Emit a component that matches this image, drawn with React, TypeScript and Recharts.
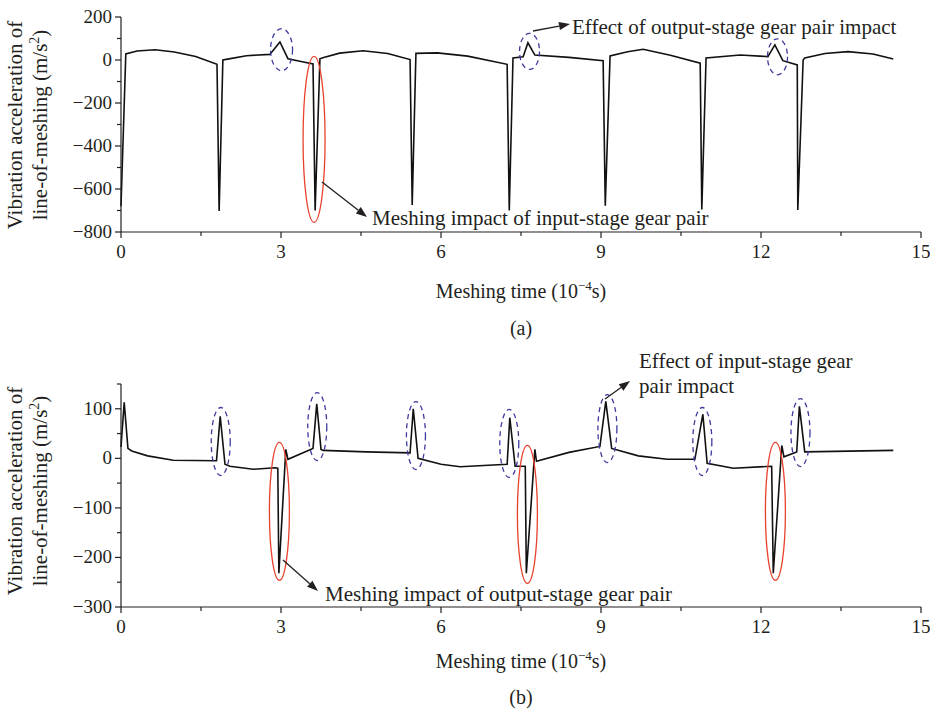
import { LineChart, Line, XAxis, YAxis, ReferenceDot } from "recharts";

// (a) line-of-meshing acceleration, input-stage meshing impacts
const timeA = [
  0.0, 0.09, 0.3, 0.64, 1.0, 1.4, 1.8, 1.84, 1.91,
  2.0, 2.35, 2.79, 2.98, 3.13, 3.4, 3.6, 3.64, 3.73,
  3.8, 4.1, 4.54, 5.0, 5.42, 5.46, 5.53,
  5.93, 6.5, 7.24, 7.28, 7.35,
  7.54, 7.63, 7.76, 8.4, 9.04, 9.08, 9.17,
  9.5, 9.79, 10.3, 10.86, 10.89, 10.97,
  11.61, 12.13, 12.26, 12.41, 12.68, 12.69, 12.79,
  12.82, 13.2, 13.63, 14.1, 14.48,
];
const accelA = [
  -680, 28, 42, 48, 37, 16, -20, -702, 0,
  4, 20, 26, 84, 6, -8, -18, -700, 6,
  12, 32, 43, 30, 2, -674, 31,
  33, 18, -20, -700, 10,
  15, 80, 23, 12, -3, -678, 19,
  38, 50, 22, -15, -695, 9,
  23, 16, 70, -3, -23, -698, 0,
  9, 30, 39, 28, 5,
];

// (b) line-of-meshing acceleration, output-stage meshing impacts
const timeB = [
  0.0, 0.06, 0.13, 0.2, 0.5, 0.98, 1.79, 1.86, 1.95,
  2.04, 2.48, 2.89, 2.94, 2.96, 3.09, 3.13, 3.6, 3.67,
  3.75, 3.79, 4.6, 5.42, 5.48, 5.57, 6.0, 6.36,
  7.24, 7.29, 7.39, 7.58, 7.6, 7.76, 7.79, 8.4,
  8.98, 9.09, 9.2, 9.7, 10.24, 10.76, 10.91, 10.99,
  11.48, 12.2, 12.23, 12.39, 12.43, 12.67, 12.72, 12.82, 14.48,
];
const accelB = [
  23, 113, 20, 15, 5, -4, -5, 85, -12,
  -16, -22, -19, -20, -232, 18, -2, 20, 110,
  18, 16, 13, 11, 100, 0, -12, -17,
  -12, 82, -16, -16, -232, 18, -6, 12,
  24, 115, 20, 5, -2, -2, 89, -10,
  -20, -16, -232, 26, 3, 13, 105, 13, 16,
];

// annotation ellipse centres (data coordinates)
const outputEffectA = [
  { t: 3.01, a: 48 },
  { t: 7.66, a: 40 },
  { t: 12.31, a: 15 },
];
const inputImpactA = [{ t: 3.62, a: -369 }];
const inputEffectB = [
  { t: 1.87, a: 34 },
  { t: 3.68, a: 64 },
  { t: 5.53, a: 46 },
  { t: 7.28, a: 30 },
  { t: 9.12, a: 60 },
  { t: 10.9, a: 34 },
  { t: 12.74, a: 52 },
];
const outputImpactB = [
  { t: 2.97, a: -107 },
  { t: 7.62, a: -113 },
  { t: 12.27, a: -107 },
];

const xTicks = [0, 1.5, 3, 4.5, 6, 7.5, 9, 10.5, 12, 13.5, 15];
const yTicksA = [-800, -700, -600, -500, -400, -300, -200, -100, 0, 100, 200];
const yTicksB = [-300, -250, -200, -150, -100, -50, 0, 50, 100, 150];

const dataA = timeA.map((t, i) => ({ t, a: accelA[i] }));
const dataB = timeB.map((t, i) => ({ t, a: accelB[i] }));

const FONT = '"Liberation Serif", "Times New Roman", serif';
const INK = "#231f20";
const PLOT_LEFT = 121;

const fmt = (v: number) => (v < 0 ? "\u2212" + Math.abs(v) : String(v));

const makeXTick = (bottom: number) => (props: any) => {
  const { x, payload } = props;
  const v = payload.value;
  const major = v % 3 === 0;
  return (
    <g>
      <line x1={x} x2={x} y1={bottom} y2={bottom + (major ? 6 : 4)} stroke={INK} strokeWidth={1.2} />
      {major && (
        <text x={x} y={bottom + 26} textAnchor="middle" fontFamily={FONT} fontSize={19} fill={INK}>
          {v}
        </text>
      )}
    </g>
  );
};

const makeYTick = (step: number) => (props: any) => {
  const { y, payload } = props;
  const v = payload.value;
  const major = v % step === 0;
  return (
    <g>
      <line x1={PLOT_LEFT - (major ? 6 : 4)} x2={PLOT_LEFT} y1={y} y2={y} stroke={INK} strokeWidth={1.2} />
      {major && (
        <text x={PLOT_LEFT - 9} y={y + 6} textAnchor="end" fontFamily={FONT} fontSize={19} fill={INK}>
          {fmt(v)}
        </text>
      )}
    </g>
  );
};

const ellipseShape = (rx: number, ry: number, color: string, dashed: boolean) => (p: any) => (
  <ellipse
    cx={p.cx}
    cy={p.cy}
    rx={rx}
    ry={ry}
    fill="none"
    stroke={color}
    strokeWidth={1.3}
    strokeDasharray={dashed ? "5 4" : undefined}
  />
);

const BLUE = "#3d3a9e";
const RED = "#e8412c";

function Arrow({ x1, y1, x2, y2 }: { x1: number; y1: number; x2: number; y2: number }) {
  const ang = Math.atan2(y2 - y1, x2 - x1);
  const len = 11;
  const w = 4;
  const bx = x2 - len * Math.cos(ang);
  const by = y2 - len * Math.sin(ang);
  const px = -Math.sin(ang) * w;
  const py = Math.cos(ang) * w;
  return (
    <g>
      <line x1={x1} y1={y1} x2={bx} y2={by} stroke={INK} strokeWidth={1.3} />
      <polygon points={`${x2},${y2} ${bx + px},${by + py} ${bx - px},${by - py}`} fill={INK} />
    </g>
  );
}

function YLabel({ cy }: { cy: number }) {
  return (
    <g fontFamily={FONT} fontSize={21} fill={INK} textAnchor="middle">
      <text transform={`translate(22, ${cy}) rotate(-90)`}>Vibration acceleration of</text>
      <text transform={`translate(47, ${cy}) rotate(-90)`}>
        line-of-meshing (m/s<tspan dy={-8} fontSize={14}>2</tspan>
        <tspan dy={8}>)</tspan>
      </text>
    </g>
  );
}

function XLabel({ y }: { y: number }) {
  return (
    <text x={521} y={y} textAnchor="middle" fontFamily={FONT} fontSize={20} fill={INK}>
      Meshing time (10<tspan dy={-8} fontSize={13}>{"\u22124"}</tspan>
      <tspan dy={8}>s)</tspan>
    </text>
  );
}

export default function App() {
  return (
    <div style={{ position: "absolute", left: 0, top: 0, width: 930, height: 713, background: "#fff" }}>
      <div style={{ position: "absolute", left: 0, top: 0 }}>
        <LineChart width={930} height={360} data={dataA} margin={{ top: 17, right: 9, bottom: 98, left: 61 }}>
          <XAxis
            dataKey="t"
            type="number"
            domain={[0, 15]}
            ticks={xTicks}
            interval={0}
            height={30}
            stroke={INK}
            strokeWidth={1.2}
            tickLine={false}
            tick={makeXTick(232)}
          />
          <YAxis
            type="number"
            domain={[-800, 200]}
            ticks={yTicksA}
            interval={0}
            width={60}
            stroke={INK}
            strokeWidth={1.2}
            tickLine={false}
            tick={makeYTick(200)}
          />
          <Line dataKey="a" type="linear" stroke="#111" strokeWidth={1.6} dot={false} isAnimationActive={false} />
          {outputEffectA.map((e, i) => (
            <ReferenceDot key={"ea" + i} x={e.t} y={e.a} r={1} ifOverflow="visible" shape={ellipseShape(i === 0 ? 11 : 10, i === 0 ? 21 : 18, BLUE, true)} />
          ))}
          {inputImpactA.map((e, i) => (
            <ReferenceDot key={"ia" + i} x={e.t} y={e.a} r={1} ifOverflow="visible" shape={ellipseShape(11, 83, RED, false)} />
          ))}
        </LineChart>
      </div>
      <div style={{ position: "absolute", left: 0, top: 360 }}>
        <LineChart width={930} height={353} data={dataB} margin={{ top: 24, right: 9, bottom: 76, left: 61 }}>
          <XAxis
            dataKey="t"
            type="number"
            domain={[0, 15]}
            ticks={xTicks}
            interval={0}
            height={30}
            stroke={INK}
            strokeWidth={1.2}
            tickLine={false}
            tick={makeXTick(247)}
          />
          <YAxis
            type="number"
            domain={[-300, 150]}
            ticks={yTicksB}
            interval={0}
            width={60}
            stroke={INK}
            strokeWidth={1.2}
            tickLine={false}
            tick={makeYTick(100)}
          />
          <Line dataKey="a" type="linear" stroke="#111" strokeWidth={1.6} dot={false} isAnimationActive={false} />
          {inputEffectB.map((e, i) => (
            <ReferenceDot key={"eb" + i} x={e.t} y={e.a} r={1} ifOverflow="visible" shape={ellipseShape(9.5, 34, BLUE, true)} />
          ))}
          {outputImpactB.map((e, i) => (
            <ReferenceDot key={"ib" + i} x={e.t} y={e.a} r={1} ifOverflow="visible" shape={ellipseShape(10, 69, RED, false)} />
          ))}
        </LineChart>
      </div>
      <svg width={930} height={713} style={{ position: "absolute", left: 0, top: 0, pointerEvents: "none" }}>
        <YLabel cy={125} />
        <YLabel cy={491} />
        <XLabel y={298} />
        <XLabel y={668} />
        <text x={521} y={335} textAnchor="middle" fontFamily={FONT} fontSize={20} fill={INK}>(a)</text>
        <text x={521} y={704} textAnchor="middle" fontFamily={FONT} fontSize={20} fill={INK}>(b)</text>

        <g fontFamily={FONT} fontSize={21} fill={INK}>
          <text x={572} y={34}>Effect of output-stage gear pair impact</text>
          <text x={372} y={225}>Meshing impact of input-stage gear pair</text>
          <text x={639} y={368}>Effect of input-stage gear</text>
          <text x={639} y={393}>pair impact</text>
          <text x={325} y={601}>Meshing impact of output-stage gear pair</text>
        </g>
        <Arrow x1={533} y1={31} x2={570} y2={24} />
        <Arrow x1={322} y1={182} x2={367} y2={217} />
        <Arrow x1={605} y1={399} x2={630} y2={381} />
        <Arrow x1={283} y1={560} x2={318} y2={591} />
      </svg>
    </div>
  );
}
